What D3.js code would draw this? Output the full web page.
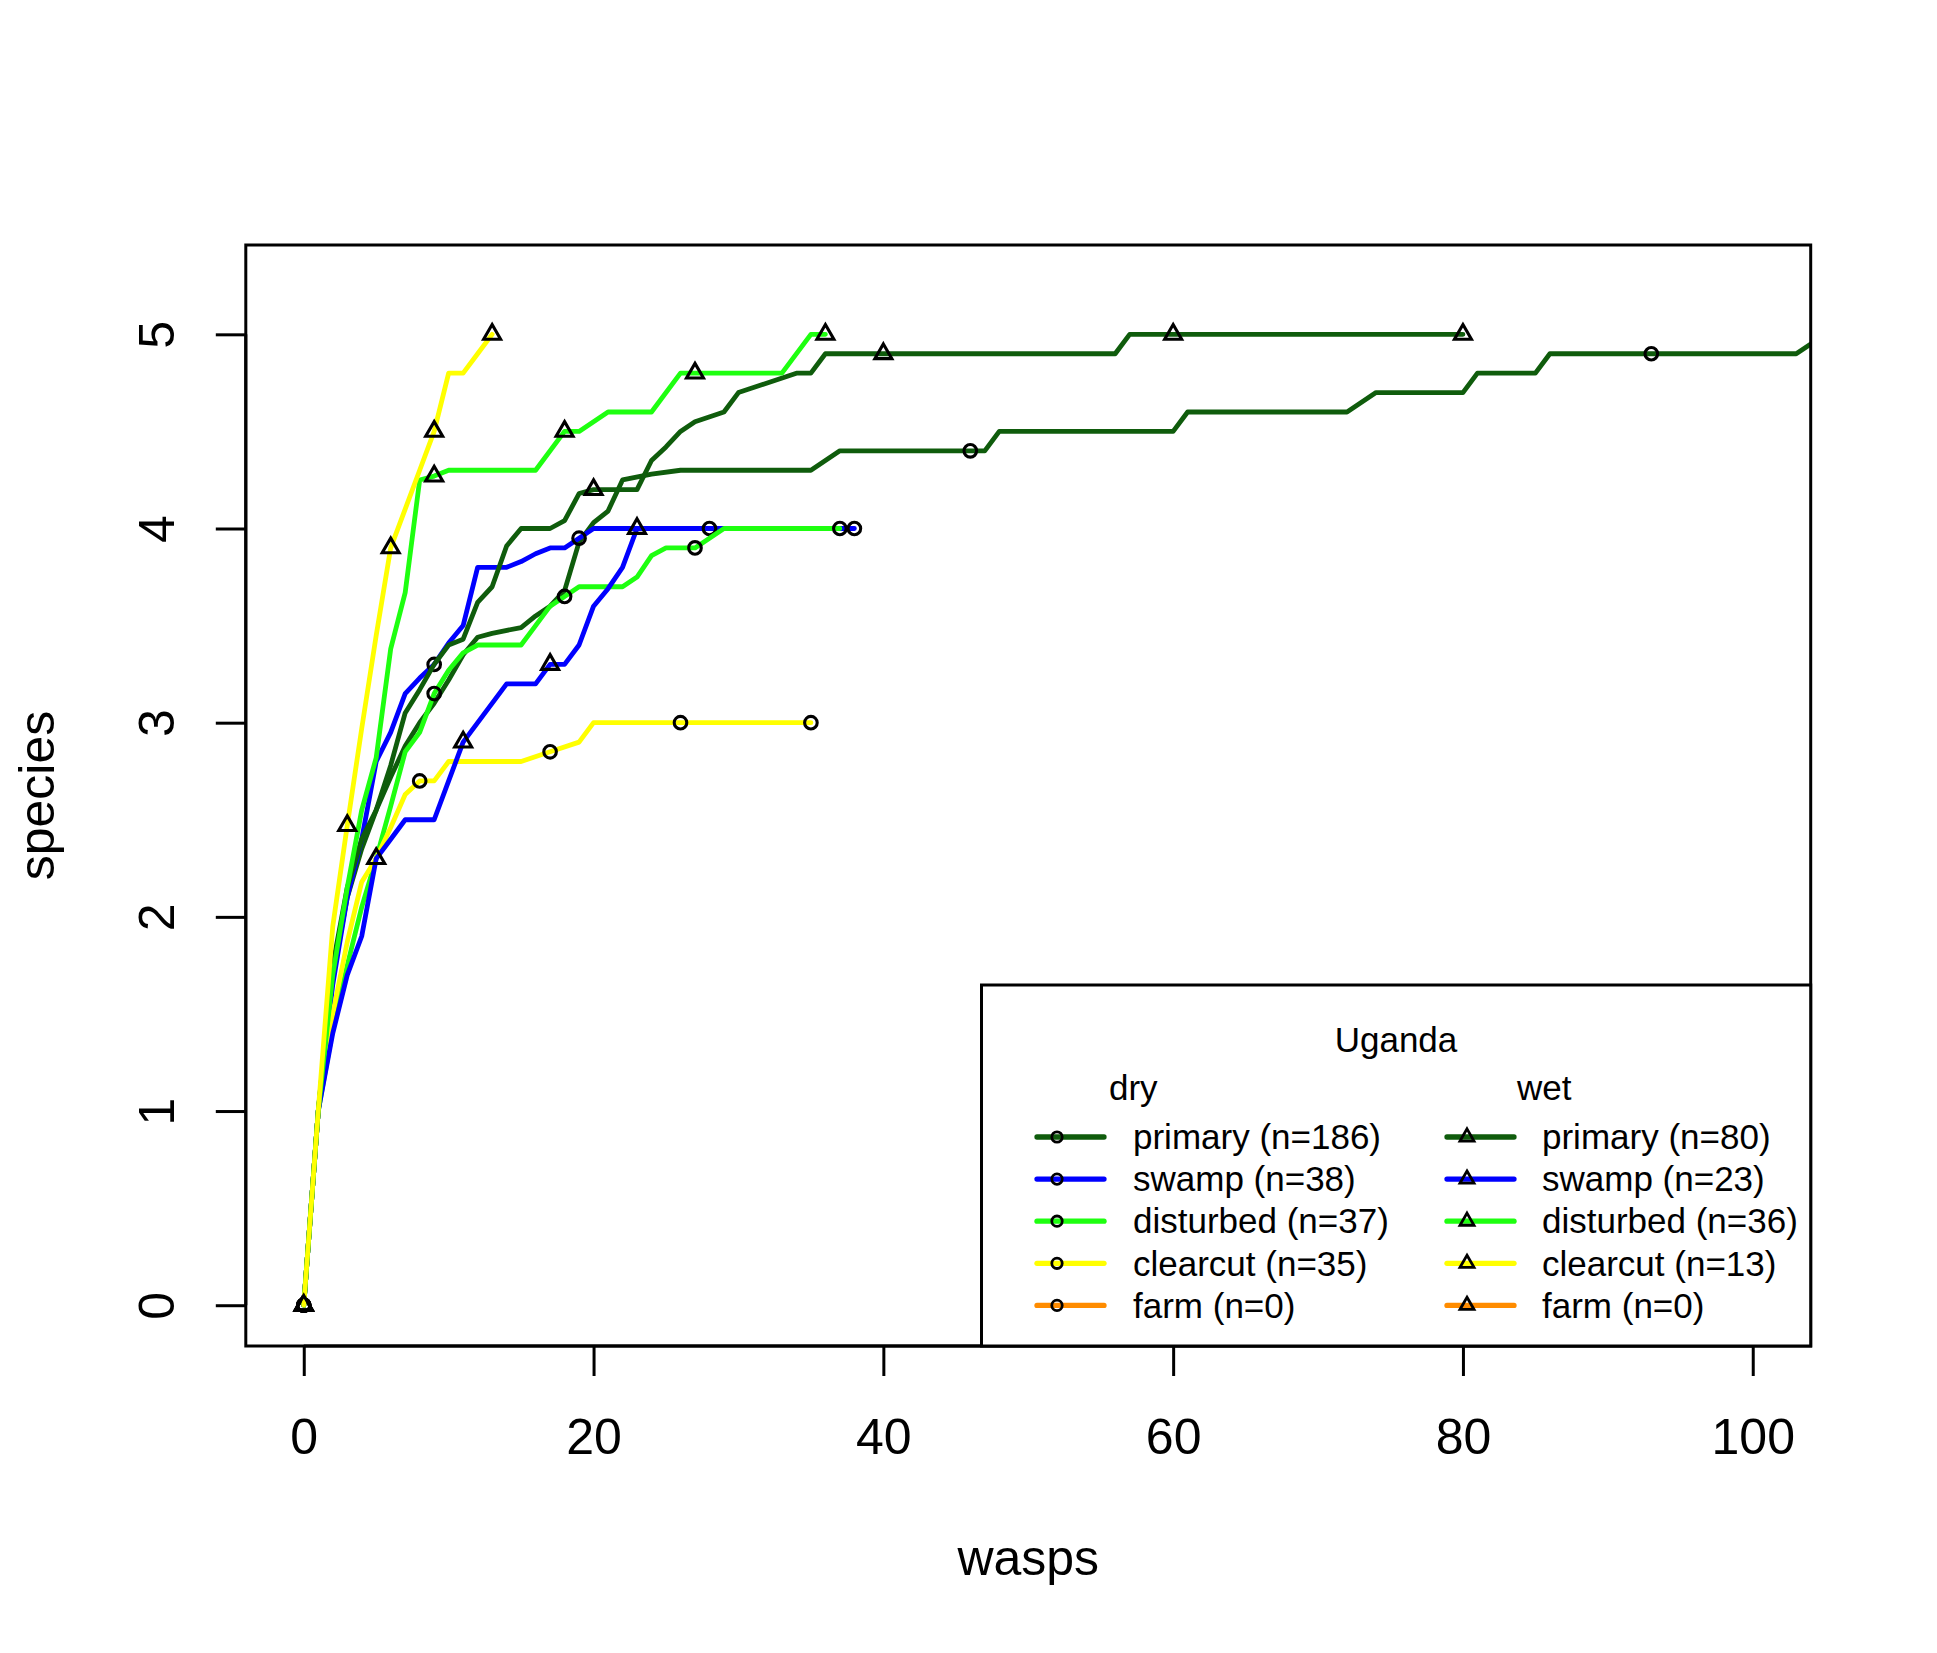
<!DOCTYPE html>
<html>
<head>
<meta charset="utf-8">
<script src="https://cdn.jsdelivr.net/npm/d3@7"></script>
<style>
  html, body { margin: 0; padding: 0; background: #fff; }
  text { font-family: "Liberation Sans", Arial, Helvetica, sans-serif; fill: #000; }
</style>
</head>
<body>
<svg id="chart" width="1937" height="1653"></svg>
<script>
// species accumulation curves, Uganda; vertices [wasps, species]
const dryPrimary = [[0,0],[1,1],[2,1.7],[3,2.1],[4,2.35],[5,2.55],[6,2.72],[7,2.88],[8,3.0],[9,3.1],[10,3.22],[11,3.35],[12,3.44],[13,3.46],[15,3.49],[16,3.55],[17,3.6],[18,3.68],[19,3.93],[20,4.03],[21,4.09],[22,4.25],[24,4.28],[26,4.3],[35,4.3],[37,4.4],[47,4.4],[48,4.5],[60,4.5],[61,4.6],[72,4.6],[74,4.7],[80,4.7],[81,4.8],[85,4.8],[86,4.9],[103,4.9],[105,5.0]]
const drySwamp = [[0,0],[1,1],[2,1.65],[3,2.1],[4,2.4],[5,2.8],[6,2.95],[7,3.15],[8,3.23],[9,3.3],[10,3.41],[11,3.5],[12,3.8],[14,3.8],[15,3.83],[16,3.87],[17,3.9],[18,3.9],[19,3.95],[20,4.0],[38,4.0]]
const dryDisturbed = [[0,0],[1,1],[2,1.42],[3,1.75],[4,2.05],[5,2.3],[6,2.57],[7,2.85],[8,2.95],[9,3.15],[10,3.27],[11,3.36],[12,3.4],[15,3.4],[16,3.5],[17,3.6],[18,3.65],[19,3.7],[22,3.7],[23,3.75],[24,3.86],[25,3.9],[27,3.9],[28,3.95],[29,4.0],[37,4.0]]
const dryClearcut = [[0,0],[1,1],[2,1.5],[3,1.87],[4,2.18],[5,2.3],[6,2.46],[7,2.63],[8,2.7],[9,2.7],[10,2.8],[15,2.8],[17,2.85],[19,2.9],[20,3.0],[35,3.0]]

const wetPrimary = [[0,0],[1,1],[2,1.75],[3,2.15],[4,2.4],[5,2.55],[6,2.78],[7,3.05],[8,3.17],[9,3.3],[10,3.4],[11,3.43],[12,3.62],[13,3.7],[14,3.91],[15,4.0],[17,4.0],[18,4.04],[19,4.18],[20,4.2],[23,4.2],[24,4.35],[25,4.42],[26,4.5],[27,4.55],[29,4.6],[30,4.7],[34,4.8],[35,4.8],[36,4.9],[56,4.9],[57,5.0],[80,5.0]]
const wetSwamp = [[0,0],[1,1],[2,1.4],[3,1.7],[4,1.9],[5,2.3],[6,2.4],[7,2.5],[9,2.5],[10,2.7],[11,2.9],[14,3.2],[16,3.2],[17,3.3],[18,3.3],[19,3.4],[20,3.6],[21,3.69],[22,3.8],[23,4.0]]
const wetDisturbed = [[0,0],[1,1],[2,1.7],[3,2.15],[4,2.55],[5,2.82],[6,3.38],[7,3.67],[8,4.25],[9,4.27],[10,4.3],[16,4.3],[18,4.5],[19,4.5],[21,4.6],[24,4.6],[26,4.8],[33,4.8],[35,5.0],[36,5.0]]
const wetClearcut = [[0,0],[1,1],[2,1.95],[3,2.47],[4,2.97],[5,3.45],[6,3.9],[7,4.1],[8,4.3],[9,4.5],[10,4.8],[11,4.8],[12,4.9],[13,5.0]]

// where the symbols sit along each curve (wasps)
const dryMarks = [[0,46,93,139,186],[0,9,19,28,38],[0,9,18,27,37],[0,8,17,26,35]]
const wetMarks = [[0,20,40,60,80],[0,5,11,17,23],[0,9,18,27,36],[0,3,6,9,13]]

const habitatColors = ['#0f5c0c', '#0000ff', '#1eff10', '#ffff00', '#ff8c00']
const dryLabels = ['primary (n=186)', 'swamp (n=38)', 'disturbed (n=37)', 'clearcut (n=35)', 'farm (n=0)']
const wetLabels = ['primary (n=80)', 'swamp (n=23)', 'disturbed (n=36)', 'clearcut (n=13)', 'farm (n=0)']
const xTicks = [0, 20, 40, 60, 80, 100]
const yTicks = [0, 1, 2, 3, 4, 5]

const BOX = { left: 245.8, right: 1810.7, top: 245, bottom: 1346 }
const LINE_W = 4.8
const CIRCLE_R = 6.3
const TRI = 1.555 // R's triangle/circle size ratio

const svg = d3.select('#chart')
svg.append('rect').attr('width', 1937).attr('height', 1653).attr('fill', '#fff')

const x = d3.scaleLinear().domain([-4, 104]).range([BOX.left, BOX.right])
const y = d3.scaleLinear().domain([-0.21, 5.46]).range([BOX.bottom, BOX.top])

svg.append('clipPath').attr('id', 'plot-clip')
  .append('rect')
  .attr('x', BOX.left).attr('y', BOX.top)
  .attr('width', BOX.right - BOX.left).attr('height', BOX.bottom - BOX.top)

const valueAt = (pts, xv) => {
  for (let i = 1; i < pts.length; i++) {
    if (xv <= pts[i][0]) {
      const [x0, y0] = pts[i - 1]
      const [x1, y1] = pts[i]
      return y0 + (y1 - y0) * (xv - x0) / (x1 - x0)
    }
  }
  return null
}

const trianglePath = (r) => {
  const h = r * Math.sqrt(3) / 2
  return `M0,${-r}L${h},${r / 2}L${-h},${r / 2}Z`
}

const drawMarker = (g, kind, cx, cy, r, sw) => {
  if (kind === 'circle') {
    g.append('circle').attr('cx', cx).attr('cy', cy).attr('r', r)
      .attr('fill', 'none').attr('stroke', '#000').attr('stroke-width', sw)
  } else {
    g.append('path').attr('d', trianglePath(r * TRI))
      .attr('transform', `translate(${cx},${cy})`)
      .attr('fill', 'none').attr('stroke', '#000').attr('stroke-width', sw)
      .attr('stroke-linejoin', 'miter')
  }
}

const line = d3.line().x((d) => x(d[0])).y((d) => y(d[1]))

const plot = svg.append('g').attr('clip-path', 'url(#plot-clip)')

const drawSeries = (pts, color, marks, kind) => {
  plot.append('path')
    .datum(pts)
    .attr('d', line)
    .attr('fill', 'none')
    .attr('stroke', color)
    .attr('stroke-width', LINE_W)
    .attr('stroke-linejoin', 'round')
    .attr('stroke-linecap', 'round')
  marks.forEach((m) => {
    const v = valueAt(pts, m)
    if (v === null || m > 104) return
    drawMarker(plot, kind, x(m), y(v), CIRCLE_R, 3.1)
  })
}

const drySeries = [dryPrimary, drySwamp, dryDisturbed, dryClearcut]
const wetSeries = [wetPrimary, wetSwamp, wetDisturbed, wetClearcut]

drySeries.forEach((pts, i) => drawSeries(pts, habitatColors[i], dryMarks[i], 'circle'))
wetSeries.forEach((pts, i) => drawSeries(pts, habitatColors[i], wetMarks[i], 'triangle'))

// axes
const xAxis = svg.append('g')
  .attr('transform', `translate(0,${BOX.bottom})`)
  .call(d3.axisBottom(x).tickValues(xTicks).tickFormat(d3.format('d')).tickSize(30).tickSizeOuter(0))
xAxis.select('.domain').remove()
xAxis.selectAll('.tick line').attr('stroke', '#000').attr('stroke-width', 3)
xAxis.selectAll('.tick text')
  .attr('y', 108).attr('dy', null)
  .style('font-size', '50px')
  .attr('fill', '#000')
xAxis.append('line')
  .attr('x1', x(0)).attr('x2', x(100))
  .attr('stroke', '#000').attr('stroke-width', 3)

const yAxis = svg.append('g')
  .attr('transform', `translate(${BOX.left},0)`)
  .call(d3.axisLeft(y).tickValues(yTicks).tickFormat(d3.format('d')).tickSize(30).tickSizeOuter(0))
yAxis.select('.domain').remove()
yAxis.selectAll('.tick line').attr('stroke', '#000').attr('stroke-width', 3)
yAxis.selectAll('.tick text')
  .attr('x', null).attr('dy', null)
  .attr('transform', 'translate(-72,0) rotate(-90)')
  .attr('text-anchor', 'middle')
  .style('font-size', '50px')
  .attr('fill', '#000')
yAxis.append('line')
  .attr('y1', y(0)).attr('y2', y(5))
  .attr('stroke', '#000').attr('stroke-width', 3)

// plot box
svg.append('rect')
  .attr('x', BOX.left).attr('y', BOX.top)
  .attr('width', BOX.right - BOX.left).attr('height', BOX.bottom - BOX.top)
  .attr('fill', 'none').attr('stroke', '#000').attr('stroke-width', 3)

// axis titles
svg.append('text')
  .attr('x', (BOX.left + BOX.right) / 2).attr('y', 1575)
  .attr('text-anchor', 'middle')
  .style('font-size', '50px')
  .text('wasps')

svg.append('text')
  .attr('transform', `translate(54,${(BOX.top + BOX.bottom) / 2}) rotate(-90)`)
  .attr('text-anchor', 'middle')
  .style('font-size', '50px')
  .text('species')

// legend
const legend = svg.append('g')
legend.append('rect')
  .attr('x', 981.5).attr('y', 985)
  .attr('width', BOX.right - 981.5).attr('height', BOX.bottom - 985)
  .attr('fill', '#fff').attr('stroke', '#000').attr('stroke-width', 3)

legend.append('text')
  .attr('x', 1396).attr('y', 1052)
  .attr('text-anchor', 'middle')
  .style('font-size', '35px')
  .text('Uganda')

const legendCols = [
  { head: 'dry', headX: 1109, lineX: [1037, 1104], markX: 1057, textX: 1133, labels: dryLabels, kind: 'circle' },
  { head: 'wet', headX: 1517, lineX: [1447, 1514], markX: 1467, textX: 1542, labels: wetLabels, kind: 'triangle' },
]

legendCols.forEach((col) => {
  legend.append('text')
    .attr('x', col.headX).attr('y', 1100)
    .style('font-size', '35px')
    .text(col.head)
  col.labels.forEach((label, i) => {
    const cy = 1137 + i * 42.1
    legend.append('line')
      .attr('x1', col.lineX[0]).attr('x2', col.lineX[1])
      .attr('y1', cy).attr('y2', cy)
      .attr('stroke', habitatColors[i]).attr('stroke-width', 5.3)
      .attr('stroke-linecap', 'round')
    drawMarker(legend, col.kind, col.markX, cy, 5.2, 2.8)
    legend.append('text')
      .attr('x', col.textX).attr('y', cy + 12.2)
      .style('font-size', '35px')
      .text(label)
  })
})
</script>
</body>
</html>
